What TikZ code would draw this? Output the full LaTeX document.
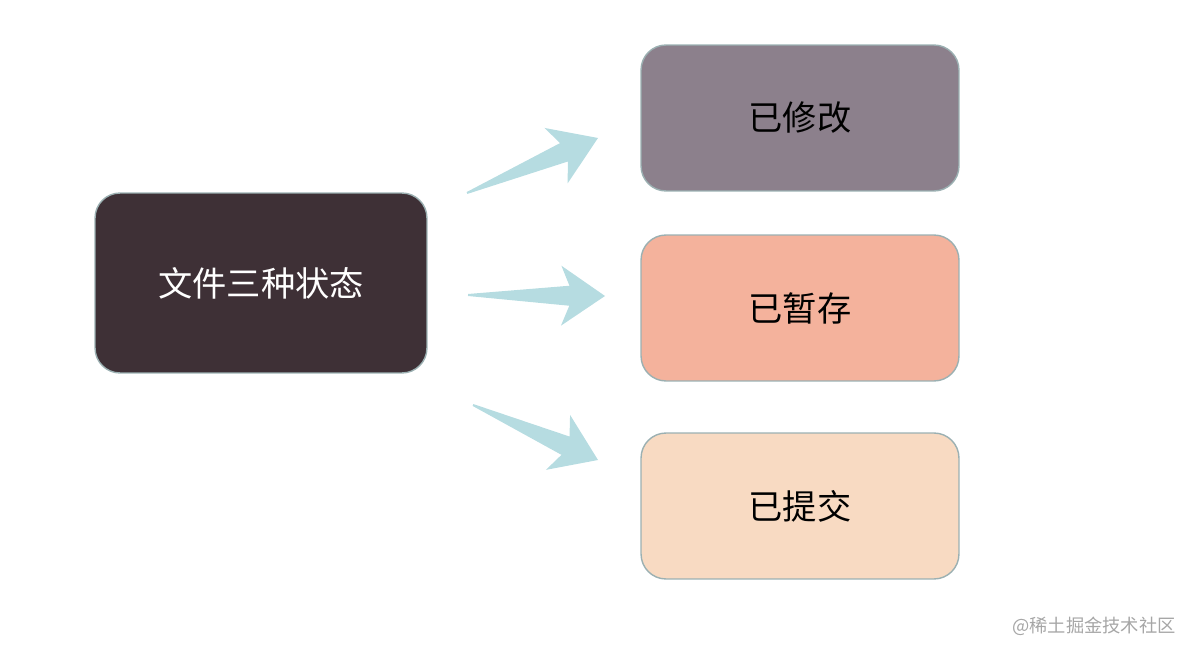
\documentclass[tikz,border=0pt]{standalone}
\usepackage{fontspec}
\usepackage{xcolor}
\usepackage{tikz}
\usetikzlibrary{positioning}
\usetikzlibrary{calc}
\newfontfamily\cjk{Noto Sans CJK SC}
\definecolor{darkplum}{HTML}{3E3036}
\definecolor{mauvegray}{HTML}{8C808C}
\definecolor{salmon}{HTML}{F4B29C}
\definecolor{peach}{HTML}{F8DAC2}
\definecolor{arrowblue}{HTML}{B6DCE1}
\definecolor{boxedge}{HTML}{9BB0B2}
% fat arrow from #1 to #2
\newcommand{\fatarrow}[2]{%
\fill[arrowblue] ($(#1)!0.02cm!90:(#2)$)
  -- ($(#1)!0.74!(#2)!0.2cm!90:(#2)$)
  -- ($(#1)!0.68!(#2)!0.6cm!90:(#2)$)
  -- (#2)
  -- ($(#1)!0.68!(#2)!0.6cm!-90:(#2)$)
  -- ($(#1)!0.74!(#2)!0.2cm!-90:(#2)$)
  -- ($(#1)!0.02cm!-90:(#2)$) -- cycle;}

\begin{document}
\begin{tikzpicture}[
x=0.02cm, y=-0.02cm,
rootnode/.style={rectangle, rounded corners=0.5cm, draw=boxedge, line width=0.8pt, fill=darkplum, minimum width=6.64cm, minimum height=3.6cm, text=white, font=\cjk\fontsize{19.5}{22}\selectfont},
statenode/.style={rectangle, rounded corners=0.5cm, draw=boxedge, line width=0.8pt, minimum width=6.36cm, minimum height=2.92cm, text=black, font=\cjk\fontsize{19.5}{22}\selectfont},
]
\useasboundingbox (0,0) rectangle (1194,655);
%Nodes
\node[rootnode]					(files)		at (261,283)	{文件三种状态};
\node[statenode, fill=mauvegray]	(modified)	at (800,118)	{已修改};
\node[statenode, fill=salmon]		(staged)	at (800,308)	{已暂存};
\node[statenode, fill=peach]		(committed)	at (800,506)	{已提交};
\node[text=gray!70, anchor=east, font=\cjk\fontsize{10.4}{12}\selectfont] (mark) at (1182,626) {@稀土掘金技术社区};

%Arrow ends
\coordinate (tailA) at (467,193);
\coordinate (tipA)  at (598,138);
\coordinate (tailB) at (468,295);
\coordinate (tipB)  at (605,296);
\coordinate (tailC) at (473,405);
\coordinate (tipC)  at (598,460);

%Lines
\fatarrow{tailA}{tipA}
\fatarrow{tailB}{tipB}
\fatarrow{tailC}{tipC}
\end{tikzpicture}
\end{document}
